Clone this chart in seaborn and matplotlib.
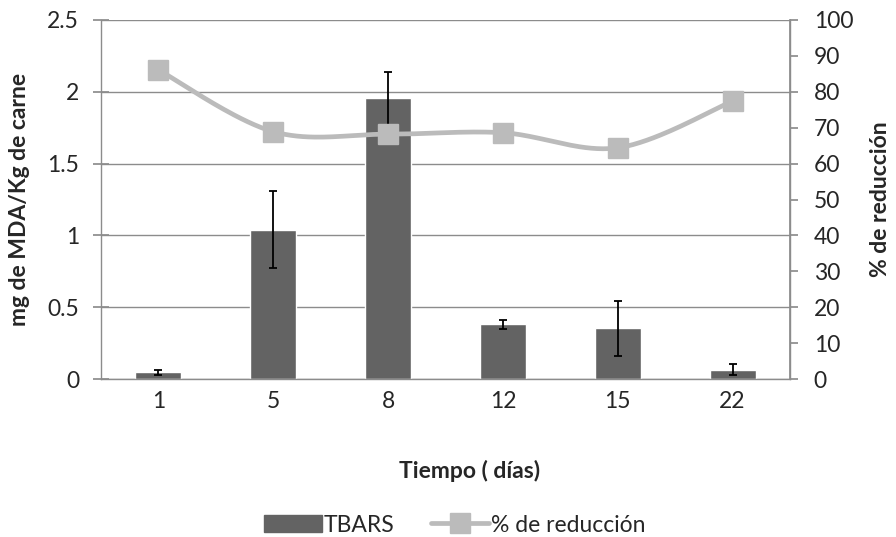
import numpy as np
import pandas as pd
import matplotlib
matplotlib.use("Agg")
import matplotlib.pyplot as plt
import seaborn as sns
from matplotlib.patches import Patch
from matplotlib.lines import Line2D

dias = ["1", "5", "8", "12", "15", "22"]
tbars = [0.047, 1.04, 1.955, 0.381, 0.353, 0.066]
tbars_err = [0.017, 0.267, 0.185, 0.032, 0.19, 0.04]
reduccion = [86.1, 68.9, 68.2, 68.6, 64.4, 77.4]

sns.set_theme(style="white")
plt.rcParams['font.family'] = ['Lato', 'DejaVu Sans']

BAR_C = "#636363"
LINE_C = "#BBBBBB"
GRID_C = "#8C8C8C"
TICK_FS = 16.5
LAB_FS = 16.5

fig = plt.figure(figsize=(8.96, 5.37), dpi=100)
ax = fig.add_axes([101/896, 1-379/537, (790-101)/896, (379-20)/537])

df = pd.DataFrame({"dia": dias, "tbars": tbars})
sns.barplot(data=df, x="dia", y="tbars", color=BAR_C, width=0.4, ax=ax,
            saturation=1, errorbar=None)
ax.errorbar(np.arange(len(dias)), tbars, yerr=tbars_err, fmt="none",
            ecolor="black", elinewidth=1.3, capsize=3, capthick=1.3, zorder=3)
ax.set_ylim(0, 2.5)
ax.set_xlim(-0.5, len(dias) - 0.5)
ax.set_yticks(np.arange(0, 2.51, 0.5))
ax.set_yticklabels(["0", "0.5", "1", "1.5", "2", "2.5"])
ax.yaxis.grid(True, color=GRID_C, linewidth=1)
ax.set_axisbelow(True)
ax.spines["top"].set_visible(False)
for s in ["left", "bottom", "right"]:
    ax.spines[s].set_color(GRID_C)
    ax.spines[s].set_linewidth(1)
ax.tick_params(axis="y", which="both", left=True, direction="inout",
               length=11.5, color=GRID_C, labelsize=TICK_FS, pad=10)
ax.tick_params(axis="x", bottom=False, labelsize=TICK_FS, pad=3)
ax.set_xlabel("Tiempo ( días)", fontsize=LAB_FS, fontweight="bold", va="center")
ax.xaxis.set_label_coords((470 - 101) / 689, (379 - 471) / 359)
ax.set_ylabel("mg de MDA/Kg de carne", fontsize=LAB_FS, fontweight="bold",
              va="center")
ax.yaxis.set_label_coords((20 - 101) / 689, 0.5)

ax2 = ax.twinx()
ax2.set_ylim(0, 100)
ax2.set_yticks(np.arange(0, 101, 10))
ax2.tick_params(axis="y", right=True, length=6, color=GRID_C,
                labelsize=TICK_FS, pad=11)
for s in ["top", "left", "bottom"]:
    ax2.spines[s].set_visible(False)
ax2.spines["right"].set_color(GRID_C)
ax2.grid(False)

# Excel-style smoothed line (Catmull-Rom Bezier through the points)
xs = np.arange(len(dias), dtype=float)
ys = np.array(reduccion, dtype=float)
P = np.column_stack([xs, ys])
curve = []
t = np.linspace(0, 1, 40)
for i in range(len(P) - 1):
    p0 = P[i - 1] if i > 0 else P[i]
    p1 = P[i]
    p2 = P[i + 1]
    p3 = P[i + 2] if i + 2 < len(P) else P[i + 1]
    c1 = p1 + (p2 - p0) / 6
    c2 = p2 - (p3 - p1) / 6
    seg = ((1 - t)[:, None] ** 3 * p1 + 3 * ((1 - t) ** 2 * t)[:, None] * c1
           + 3 * ((1 - t) * t ** 2)[:, None] * c2 + (t ** 3)[:, None] * p2)
    curve.append(seg if i == 0 else seg[1:])
curve = np.vstack(curve)
cdf = pd.DataFrame({"x": curve[:, 0], "y": curve[:, 1]})
sns.lineplot(data=cdf, x="x", y="y", sort=False, color=LINE_C, linewidth=3.4,
             ax=ax2, zorder=4)
ax2.plot(xs, ys, linestyle="none", marker="s", markersize=14,
         color=LINE_C, zorder=5)
ax2.set_xlim(-0.5, len(dias) - 0.5)
ax2.set_ylabel("% de reducción", fontsize=LAB_FS, fontweight="bold",
               rotation=90, va="center")
ax2.yaxis.set_label_coords((880 - 101) / 689, 0.5)
ax2.set_xlabel("")

handles = [Patch(facecolor=BAR_C, edgecolor=BAR_C, label="TBARS"),
           Line2D([0], [0], color=LINE_C, linewidth=3.4, marker="s",
                  markersize=14, label="% de reducción")]
fig.legend(handles=handles, loc="center", bbox_to_anchor=(455/896, 1 - 525/537),
           ncol=2, frameon=False, fontsize=LAB_FS, handlelength=2.5,
           handleheight=0.8, columnspacing=1.6, handletextpad=0.1)

fig.savefig("out.png", dpi=100)
